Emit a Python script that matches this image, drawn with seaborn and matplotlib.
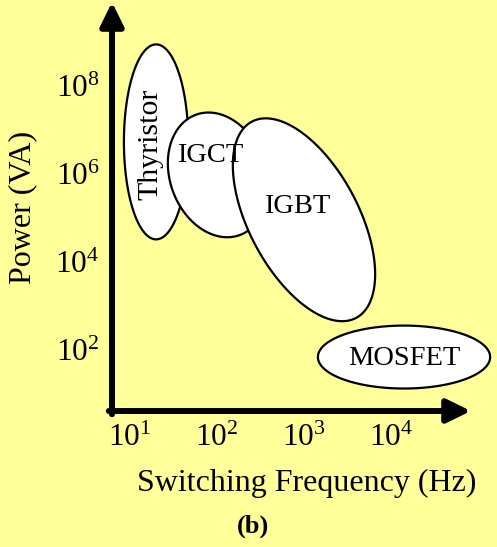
import numpy as np
import seaborn as sns
import matplotlib.pyplot as plt

# Device operating regions (log10 of frequency in Hz, log10 of power in VA)
devices = ["Thyristor", "IGCT", "IGBT", "MOSFET"]
center_logf = [1.30, 2.01, 3.00, 4.15]
center_logp = [6.73, 5.98, 4.96, 1.84]
span_logf = [0.74, 1.10, 1.26, 1.98]
span_logp = [4.43, 2.91, 5.05, 1.43]
tilt_deg = [0, 20, 28, 0]
label_logf = [1.23, 1.92, 2.92, 4.15]
label_logp = [6.68, 6.41, 5.27, 1.80]
label_rot = [90, 0, 0, 0]

freq_exp = [1, 2, 3, 4]
power_exp = [2, 4, 6, 8]

BG = "#FFFF99"
sns.set_style("white", {"axes.facecolor": BG, "figure.facecolor": BG})
plt.rcParams["font.family"] = ["Liberation Serif", "DejaVu Serif"]
plt.rcParams["mathtext.fontset"] = "custom"
plt.rcParams["mathtext.rm"] = "Liberation Serif"
plt.rcParams["text.color"] = "black"
plt.rcParams["xtick.color"] = "black"
plt.rcParams["ytick.color"] = "black"

W, H = 497, 547
fig = plt.figure(figsize=(W / 100, H / 100), dpi=100)
ax_l, ax_b, ax_r, ax_t = 112, 411, 471, 2
ax = fig.add_axes([ax_l / W, 1 - ax_b / H, (ax_r - ax_l) / W, (ax_b - ax_t) / H])

xlim = (0.793, 4.920)
ylim = (0.614, 9.909)
ax.set_xscale("log")
ax.set_yscale("log")
ax.set_xlim(10 ** xlim[0], 10 ** xlim[1])
ax.set_ylim(10 ** ylim[0], 10 ** ylim[1])

# pixels per decade on each axis, so tilted ellipses keep their shape
ppx = (ax_r - ax_l) / (xlim[1] - xlim[0])
ppy = (ax_b - ax_t) / (ylim[1] - ylim[0])

t = np.linspace(0, 2 * np.pi, 300)
for i, name in enumerate(devices):
    a = span_logf[i] / 2 * ppx
    b = span_logp[i] / 2 * ppy
    th = np.deg2rad(tilt_deg[i])
    u, v = a * np.cos(t), b * np.sin(t)
    X = u * np.cos(th) - v * np.sin(th)
    Y = u * np.sin(th) + v * np.cos(th)
    lx = center_logf[i] + X / ppx
    ly = center_logp[i] + Y / ppy
    ax.fill(10 ** lx, 10 ** ly, facecolor="white", edgecolor="black",
            lw=1.6, zorder=2 + i, clip_on=False)

for i, name in enumerate(devices):
    ax.text(10 ** label_logf[i], 10 ** label_logp[i], name,
            rotation=label_rot[i], ha="center", va="center", color="black",
            fontsize=21.5 if label_rot[i] else 20.5, zorder=10)

ax.set_xticks([10.0 ** e for e in freq_exp])
ax.set_xticklabels([f"$\\mathregular{{10^{{{e}}}}}$" for e in freq_exp])
ax.set_yticks([10.0 ** e for e in power_exp])
ax.set_yticklabels([f"$\\mathregular{{10^{{{e}}}}}$" for e in power_exp])
ax.minorticks_off()
ax.tick_params(axis="x", length=0, pad=9, labelsize=22.5)
ax.tick_params(axis="y", length=0, pad=9, labelsize=22.5)
sns.despine(ax=ax, left=True, bottom=True)

# axis arrows
arrow = dict(arrowstyle="-|>,head_length=0.45,head_width=0.22", lw=4.3,
             color="black", mutation_scale=32, shrinkA=0, shrinkB=0)
ax.annotate("", xy=(1, 0), xytext=(-0.009, 0), xycoords="axes fraction",
            arrowprops=arrow, annotation_clip=False)
ax.annotate("", xy=(0, 1), xytext=(0, -0.008), xycoords="axes fraction",
            arrowprops=arrow, annotation_clip=False)

fig.text(307 / W, 1 - 483 / H, "Switching Frequency (Hz)", ha="center",
         va="center", fontsize=23)
fig.text(23 / W, 1 - 207 / H, "Power (VA)", ha="center", va="center",
         rotation=90, fontsize=23)
fig.text(253 / W, 1 - 526 / H, "(b)", ha="center", va="center",
         fontsize=19, fontweight="bold")

fig.savefig("out.png", dpi=100, facecolor=BG)
